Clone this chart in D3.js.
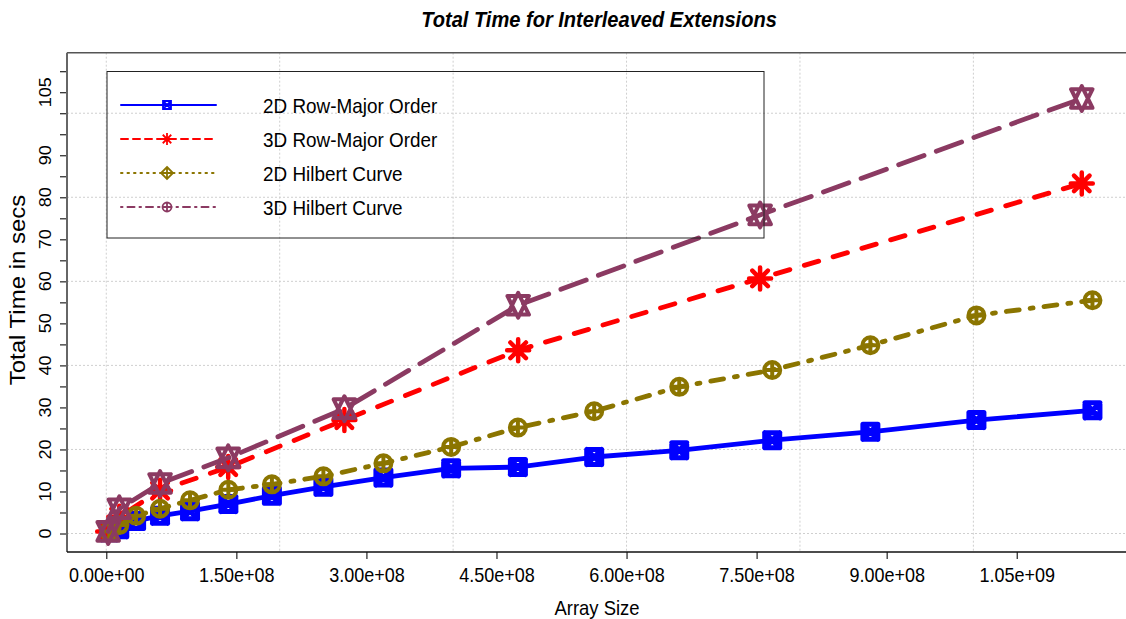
<!DOCTYPE html>
<html>
<head>
<meta charset="utf-8">
<script src="https://cdn.jsdelivr.net/npm/d3@7"></script>
<style>
  body { margin: 0; background: #fff; }
  svg { display: block; }
  text { font-family: "Liberation Sans", Arial, Helvetica, sans-serif; fill: #000; }
</style>
</head>
<body>
<svg id="chart" width="1126" height="619"></svg>
<script>
// Array sizes (number of elements) for the 2D runs
const sizes2D = [3.5e6, 15e6, 34.4e6, 62e6, 96.6e6, 140.8e6, 191e6, 250.4e6, 319.6e6,
                 397.7e6, 474.7e6, 562.7e6, 660.8e6, 768e6, 881.2e6, 1003.5e6, 1137.3e6];
// Total time in seconds, 2D layouts
const rowMajor2D = [0.3, 1.0, 3.0, 4.2, 5.3, 7.0, 9.0, 11.1, 13.3, 15.5, 15.8, 18.2, 19.8, 22.2, 24.2, 27.0, 29.3];
const hilbert2D  = [0.5, 2.0, 4.2, 5.9, 7.9, 10.4, 11.7, 13.6, 16.7, 20.6, 25.2, 29.1, 34.9, 38.9, 44.8, 51.9, 55.5];

// Array sizes for the 3D runs
const sizes3D = [2.2e6, 15e6, 62e6, 140.6e6, 274.6e6, 475e6, 754e6, 1125e6];
// Total time in seconds, 3D layouts
const rowMajor3D = [0.5, 4.0, 10.2, 15.8, 27.0, 43.6, 60.7, 83.3];
const hilbert3D  = [0.5, 5.9, 11.9, 18.0, 29.7, 54.3, 75.8, 103.5];

// Axis ticks and labels
const xTickValues = [0, 1.5e8, 3.0e8, 4.5e8, 6.0e8, 7.5e8, 9.0e8, 1.05e9];
const xTickLabels = ["0.00e+00", "1.50e+08", "3.00e+08", "4.50e+08", "6.00e+08", "7.50e+08", "9.00e+08", "1.05e+09"];
const yTickValues = [0, 5, 10, 15, 20, 25, 30, 35, 40, 45, 50, 55, 60, 65, 70, 75, 80, 85, 90, 95, 100, 105, 110];
const yLabelValues = [0, 10, 20, 30, 40, 50, 60, 70, 80, 90, 105];
const xGridValues = [0, 2e8, 4e8, 6e8, 8e8, 1e9];
const yGridValues = [0, 20, 40, 60, 80, 100];

const seriesNames = ["2D Row-Major Order", "3D Row-Major Order", "2D Hilbert Curve", "3D Hilbert Curve"];

const svg = d3.select("#chart");
const plot = { left: 67, right: 1126, top: 52.7, bottom: 552 };
const squeeze = 0.9;   // horizontal squeeze applied to the lettering

const x = d3.scaleLinear().domain([-45.3e6, 1176e6]).range([plot.left, plot.right]);
const y = d3.scaleLinear().domain([-4.4, 114.4]).range([plot.bottom, plot.top]);

// Marker shapes, drawn around (0,0)
function markerPath(kind, s) {
  const p = d3.path();
  if (kind === "squareX") {
    p.rect(-s, -s, 2 * s, 2 * s);
    p.moveTo(-s, -s); p.lineTo(s, s);
    p.moveTo(s, -s); p.lineTo(-s, s);
  } else if (kind === "asterisk") {
    const d = s / Math.SQRT2;
    p.moveTo(-s, 0); p.lineTo(s, 0);
    p.moveTo(0, -s); p.lineTo(0, s);
    p.moveTo(-d, -d); p.lineTo(d, d);
    p.moveTo(d, -d); p.lineTo(-d, d);
  } else if (kind === "circlePlus") {
    p.moveTo(s, 0); p.arc(0, 0, s, 0, 2 * Math.PI);
    p.moveTo(-s, 0); p.lineTo(s, 0);
    p.moveTo(0, -s); p.lineTo(0, s);
  } else if (kind === "diamondPlus") {
    p.moveTo(0, -s); p.lineTo(s, 0); p.lineTo(0, s); p.lineTo(-s, 0); p.closePath();
    p.moveTo(-s, 0); p.lineTo(s, 0);
    p.moveTo(0, -s); p.lineTo(0, s);
  } else if (kind === "triangles") {
    const r = 1.5551 * s, yc = 1.1663 * s, hx = 1.3468 * s;
    p.moveTo(0, -r); p.lineTo(hx, yc); p.lineTo(-hx, yc); p.closePath();
    p.moveTo(0, r); p.lineTo(hx, -yc); p.lineTo(-hx, -yc); p.closePath();
  }
  return p.toString();
}

const series = [
  { name: seriesNames[0], xs: sizes2D, ys: rowMajor2D, color: "#0000FF", dash: null,
    marker: "squareX", size: 7.5, mw: 5, legendDash: null, legendMarker: "squareX", legendSize: 4, legendWidth: 2 },
  { name: seriesNames[1], xs: sizes3D, ys: rowMajor3D, color: "#FF0000", dash: "15,15",
    marker: "asterisk", size: 11, mw: 4.5, legendDash: "7,5", legendMarker: "asterisk", legendSize: 6, legendWidth: 2 },
  { name: seriesNames[2], xs: sizes2D, ys: hilbert2D, color: "#8B7500", dash: "3,11,13,11",
    marker: "circlePlus", size: 8, mw: 4, legendDash: "1.5,5", legendMarker: "diamondPlus", legendSize: 6, legendWidth: 2 },
  { name: seriesNames[3], xs: sizes3D, ys: hilbert3D, color: "#8B3A62", dash: "27,13",
    marker: "triangles", size: 8, mw: 4, legendDash: "1.5,5,7,5", legendMarker: "circlePlus", legendSize: 4.5, legendWidth: 2 }
];

// Grid
const grid = svg.append("g").attr("stroke", "#cfcfcf").attr("stroke-width", 1).attr("stroke-dasharray", "2,2");
grid.selectAll("line.v").data(xGridValues).join("line")
  .attr("x1", d => x(d)).attr("x2", d => x(d)).attr("y1", plot.top).attr("y2", plot.bottom);
grid.selectAll("line.h").data(yGridValues).join("line")
  .attr("y1", d => y(d)).attr("y2", d => y(d)).attr("x1", plot.left).attr("x2", plot.right);

// Axes
const xAxis = d3.axisBottom(x).tickValues(xTickValues).tickSize(7).tickPadding(6)
  .tickFormat((d, i) => xTickLabels[i]);
const gx = svg.append("g").attr("transform", `translate(0,${plot.bottom})`).call(xAxis);
gx.select(".domain").remove();
gx.selectAll(".tick line").attr("stroke", "#222").attr("stroke-width", 1.2);
gx.selectAll(".tick text").attr("font-size", 20).attr("font-family", "Liberation Sans, Arial, sans-serif")
  .attr("fill", "#000").attr("dy", "0.85em").attr("transform", `scale(${squeeze},1)`);

const yAxis = d3.axisLeft(y).tickValues(yTickValues).tickSize(7).tickFormat("");
const gy = svg.append("g").attr("transform", `translate(${plot.left},0)`).call(yAxis);
gy.select(".domain").remove();
gy.selectAll(".tick line").attr("stroke", "#222").attr("stroke-width", 1.2);
svg.append("g").selectAll("text").data(yLabelValues).join("text")
  .attr("transform", d => `translate(51,${y(d)}) rotate(-90) scale(1,${squeeze})`)
  .attr("text-anchor", "middle").attr("font-size", 18).text(d => d);

// Plot frame
svg.append("line").attr("x1", plot.left).attr("x2", plot.right).attr("y1", plot.top).attr("y2", plot.top)
  .attr("stroke", "#555").attr("stroke-width", 1.5);
svg.append("line").attr("x1", plot.left).attr("x2", plot.left).attr("y1", plot.top).attr("y2", plot.bottom)
  .attr("stroke", "#666").attr("stroke-width", 2);
svg.append("line").attr("x1", plot.left).attr("x2", plot.right).attr("y1", plot.bottom).attr("y2", plot.bottom)
  .attr("stroke", "#111").attr("stroke-width", 1.5);

// Series lines and markers
const line = d3.line().x(d => x(d[0])).y(d => y(d[1]));
series.forEach(s => {
  const pts = s.xs.map((v, i) => [v, s.ys[i]]);
  svg.append("path").datum(pts).attr("d", line)
    .attr("fill", "none").attr("stroke", s.color).attr("stroke-width", 4.8)
    .attr("stroke-linecap", "round").attr("stroke-linejoin", "round")
    .attr("stroke-dasharray", s.dash);
  svg.append("g").selectAll("path").data(pts).join("path")
    .attr("transform", d => `translate(${x(d[0])},${y(d[1])})`)
    .attr("d", markerPath(s.marker, s.size))
    .attr("fill", "none").attr("stroke", s.color).attr("stroke-width", s.mw)
    .attr("stroke-linecap", "round").attr("stroke-linejoin", "round");
});

// Legend
const legend = svg.append("g");
legend.append("rect").attr("x", 107).attr("y", 71.5).attr("width", 657).attr("height", 166.5)
  .attr("fill", "none").attr("stroke", "#222").attr("stroke-width", 1);
series.forEach((s, i) => {
  const ly = 105 + i * 34;
  legend.append("line").attr("x1", 121).attr("x2", 216).attr("y1", ly).attr("y2", ly)
    .attr("stroke", s.color).attr("stroke-width", s.legendWidth)
    .attr("stroke-dasharray", s.legendDash).attr("stroke-linecap", "round");
  legend.append("path").attr("transform", `translate(167,${ly})`)
    .attr("d", markerPath(s.legendMarker, s.legendSize))
    .attr("fill", "none").attr("stroke", s.color).attr("stroke-width", 1.8);
  legend.append("text").attr("transform", `translate(263,${ly}) scale(${squeeze},1)`)
    .attr("dy", "0.36em").attr("font-size", 21).text(s.name);
});

// Titles
svg.append("text").attr("transform", `translate(599,27) scale(${squeeze},1)`).attr("text-anchor", "middle")
  .attr("font-size", 22.3).attr("font-weight", "bold").attr("font-style", "italic")
  .text("Total Time for Interleaved Extensions");
svg.append("text").attr("transform", `translate(597,615) scale(${squeeze},1)`).attr("text-anchor", "middle")
  .attr("font-size", 20.5).text("Array Size");
svg.append("text").attr("transform", `translate(25,290) rotate(-90) scale(1,${squeeze})`).attr("text-anchor", "middle")
  .attr("font-size", 24).text("Total Time in secs");
</script>
</body>
</html>
